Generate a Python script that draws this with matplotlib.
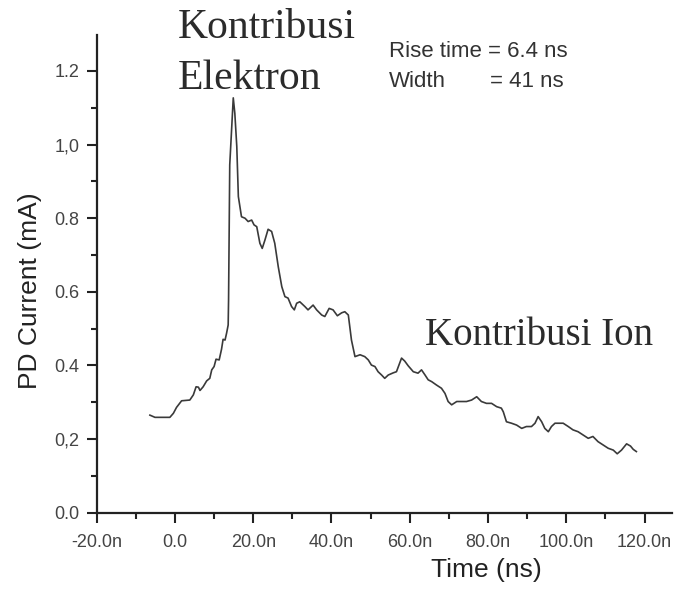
import matplotlib
matplotlib.use("Agg")
import matplotlib.pyplot as plt
from matplotlib.ticker import MultipleLocator, FixedLocator, FixedFormatter

# time (ns) and PD current (mA)
time_ns = [-6.4, -5.1, -1.3, -0.4, 0.4, 1.7, 3.8, 4.7, 5.4, 6.0, 6.4, 7.2, 8.1, 8.9,
           9.4, 10.0, 10.5, 11.3, 11.9, 12.3, 12.8, 13.2, 13.6, 13.7, 14.0, 14.9,
           15.3, 15.8, 16.2, 16.6, 17.0, 17.9, 18.7, 19.6, 20.2, 20.9, 21.7, 22.3,
           23.0, 23.8, 24.7, 25.5, 26.4, 27.3, 28.1, 28.9, 29.8, 30.5, 31.1, 31.9,
           33.2, 34.0, 35.3, 36.2, 37.5, 38.3, 39.4, 40.4, 41.5, 42.6, 43.4, 44.3,
           45.1, 46.0, 47.3, 48.5, 49.4, 50.2, 51.1, 51.9, 52.8, 53.6, 54.5, 55.8,
           56.6, 57.9, 58.7, 59.6, 60.9, 62.1, 63.0, 63.9, 64.7, 65.6, 66.8, 68.1,
           69.0, 69.8, 70.7, 72.0, 73.2, 74.5, 75.8, 77.1, 78.3, 79.6, 80.9, 82.2,
           83.4, 83.9, 84.7, 86.0, 87.3, 88.6, 89.8, 91.1, 92.0, 92.8, 93.7, 94.5,
           95.4, 96.2, 97.1, 99.2, 100.5, 101.7, 103.0, 104.3, 105.6, 106.8, 108.1,
           109.4, 110.7, 112.0, 113.0, 114.1, 115.4, 116.4, 117.1, 117.9]
current_ma = [0.265, 0.259, 0.259, 0.270, 0.286, 0.304, 0.306, 0.320, 0.342, 0.341,
              0.332, 0.342, 0.358, 0.365, 0.388, 0.397, 0.417, 0.415, 0.444, 0.471,
              0.469, 0.488, 0.510, 0.578, 0.945, 1.127, 1.085, 0.995, 0.859, 0.832,
              0.804, 0.800, 0.791, 0.795, 0.782, 0.777, 0.732, 0.718, 0.741, 0.770,
              0.764, 0.732, 0.668, 0.614, 0.587, 0.583, 0.560, 0.551, 0.569, 0.573,
              0.560, 0.551, 0.564, 0.551, 0.537, 0.533, 0.555, 0.551, 0.535, 0.543,
              0.546, 0.537, 0.469, 0.424, 0.429, 0.424, 0.415, 0.401, 0.397, 0.383,
              0.374, 0.365, 0.374, 0.380, 0.383, 0.420, 0.412, 0.399, 0.383, 0.379,
              0.388, 0.374, 0.361, 0.356, 0.347, 0.338, 0.324, 0.302, 0.293, 0.302,
              0.302, 0.302, 0.306, 0.315, 0.302, 0.297, 0.297, 0.288, 0.284, 0.274,
              0.247, 0.243, 0.238, 0.229, 0.234, 0.234, 0.243, 0.261, 0.247, 0.229,
              0.220, 0.234, 0.243, 0.243, 0.234, 0.225, 0.220, 0.211, 0.202, 0.207,
              0.193, 0.184, 0.175, 0.170, 0.160, 0.170, 0.187, 0.181, 0.172, 0.166]

x_ticks = [-20, 0, 20, 40, 60, 80, 100, 120]
x_labels = ["-20.0n", "0.0", "20.0n", "40.0n", "60.0n", "80.0n", "100.0n", "120.0n"]
y_ticks = [0.0, 0.2, 0.4, 0.6, 0.8, 1.0, 1.2]
y_labels = ["0.0", "0,2", "0.4", "0.6", "0.8", "1,0", "1.2"]

sans = ["Liberation Sans", "DejaVu Sans"]
serif = ["Liberation Serif", "DejaVu Serif"]
plt.rcParams["font.family"] = sans

fig = plt.figure(figsize=(6.77, 5.92), dpi=100, facecolor="white")
ax = fig.add_axes([0.1428, 0.134, 0.8498, 0.807])

ax.plot(time_ns, current_ma, color="#3a3a3a", linewidth=1.2)

ax.set_xlim(-20, 127)
ax.set_ylim(0, 1.298)
for side in ("top", "right"):
    ax.spines[side].set_visible(False)
for side in ("left", "bottom"):
    ax.spines[side].set_linewidth(1.6)
    ax.spines[side].set_color("#222222")

ax.xaxis.set_major_locator(FixedLocator(x_ticks))
ax.xaxis.set_major_formatter(FixedFormatter(x_labels))
ax.xaxis.set_minor_locator(MultipleLocator(10))
ax.yaxis.set_major_locator(FixedLocator(y_ticks))
ax.yaxis.set_major_formatter(FixedFormatter(y_labels))
ax.yaxis.set_minor_locator(MultipleLocator(0.1))

ax.tick_params(which="both", direction="out", width=1.5, color="#222222",
               labelsize=13, labelcolor="#444444")
ax.tick_params(which="major", length=7.5)
ax.tick_params(which="minor", length=4.5)
ax.tick_params(axis="x", which="major", pad=7.5)
ax.tick_params(axis="y", which="major", pad=5)

fig.text(30 / 677, 1 - 291 / 592, "PD Current (mA)", rotation=90, ha="center",
         va="center", fontsize=19, color="#222222")
fig.text(486 / 677, 1 - 577 / 592, "Time (ns)", ha="center", va="baseline",
         fontsize=19, color="#222222")

ax.text(0.8, 1.290, "Kontribusi", family=serif, fontsize=30, color="#2b2b2b",
        va="baseline", clip_on=False)
ax.text(0.8, 1.150, "Elektron", family=serif, fontsize=30, color="#2b2b2b",
        va="baseline", clip_on=False)
ax.text(63.9, 0.456, "Kontribusi Ion", family=serif, fontsize=28, color="#2b2b2b",
        va="baseline")
ax.text(54.7, 1.239, "Rise time = 6.4 ns", fontsize=16, color="#333333",
        va="baseline")
ax.text(54.7, 1.156, "Width", fontsize=16, color="#333333", va="baseline")
ax.text(80.6, 1.156, "= 41 ns", fontsize=16, color="#333333", va="baseline")

fig.savefig("out.png", dpi=100, facecolor="white")
